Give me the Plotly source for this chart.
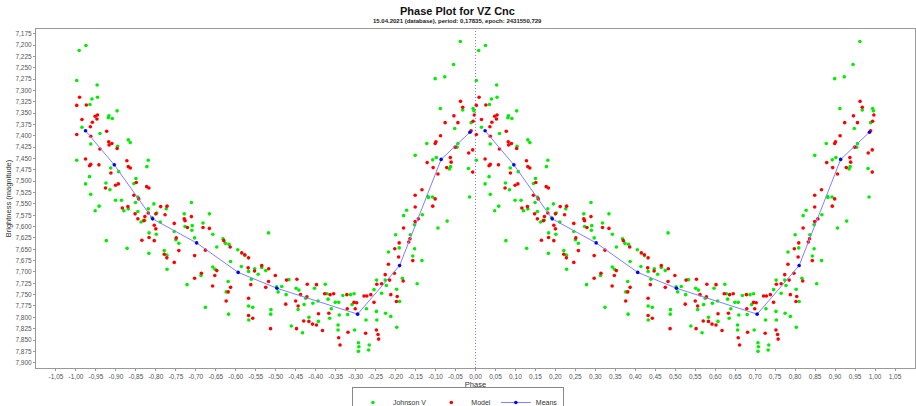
import plotly.graph_objects as go

# ---- data (phase in [0,1), magnitude) ----
obs_phase = [
    0.025, 0.008, 0.002, 0.053, 0.054, 0.040, 0.035, 0.103, 0.0825, 0.081, 0.091, 0.015, 0.060, 0.131, 0.136,
    0.037, 0.104, 0.002, 0.181, 0.1775, 0.087, 0.107, 0.034, 0.150, 0.024, 0.075, 0.145, 0.085, 0.037, 0.155,
    0.099, 0.114, 0.149, 0.195, 0.289,
    0.058, 0.048, 0.131, 0.12, 0.181, 0.155, 0.226, 0.202, 0.172, 0.163, 0.19, 0.211, 0.271, 0.334, 0.318,
    0.291, 0.29, 0.273, 0.183, 0.201, 0.246, 0.3425, 0.076, 0.25, 0.2575, 0.297, 0.368, 0.374, 0.383, 0.3525,
    0.482, 0.128, 0.1825, 0.221, 0.2275, 0.405, 0.423, 0.387, 0.414, 0.3425, 0.348, 0.313, 0.228, 0.4475, 0.465,
    0.475, 0.456, 0.432, 0.439, 0.381, 0.278, 0.376, 0.502, 0.506, 0.324, 0.432, 0.4425, 0.382, 0.4325, 0.488,
    0.4875,
    0.515, 0.526, 0.533, 0.551, 0.558, 0.556, 0.571, 0.539, 0.567, 0.575, 0.583, 0.597, 0.593, 0.606, 0.607,
    0.624, 0.628, 0.631, 0.635, 0.639, 0.649, 0.6575, 0.659, 0.656, 0.656, 0.668, 0.68, 0.687, 0.691, 0.696,
    0.6975, 0.707, 0.707, 0.708, 0.727, 0.7325, 0.734, 0.726, 0.746, 0.7525, 0.753, 0.752, 0.765, 0.777, 0.774,
    0.775, 0.788, 0.782, 0.8025, 0.803, 0.81, 0.80, 0.809, 0.817, 0.82, 0.8275, 0.837, 0.8475, 0.8475, 0.843,
    0.854, 0.866, 0.867, 0.882, 0.906, 0.929, 0.985,
    0.962, 0.945, 0.923, 0.899, 0.912, 0.968, 0.994, 0.996, 0.989, 0.948, 0.956, 0.954, 0.878, 0.849, 0.902,
    0.893, 0.9375, 0.935, 0.9825, 0.8925, 0.881,
]
obs_mag = [
    7.201, 7.212, 7.278, 7.288, 7.315, 7.319, 7.331, 7.345, 7.356, 7.360, 7.362, 7.381, 7.395, 7.409, 7.415,
    7.418, 7.423, 7.454, 7.454, 7.468, 7.471, 7.479, 7.490, 7.494, 7.506, 7.504, 7.505, 7.519, 7.529, 7.535,
    7.542, 7.542, 7.547, 7.550, 7.547,
    7.555, 7.565, 7.561, 7.565, 7.561, 7.567, 7.561, 7.570, 7.586, 7.590, 7.580, 7.590, 7.572, 7.572, 7.592,
    7.598, 7.608, 7.600, 7.614, 7.617, 7.611, 7.617, 7.631, 7.629, 7.637, 7.625, 7.627, 7.637, 7.639, 7.645,
    7.614, 7.648, 7.659, 7.653, 7.663, 7.651, 7.664, 7.677, 7.688, 7.689, 7.694, 7.708, 7.694, 7.693, 7.690,
    7.697, 7.705, 7.699, 7.716, 7.721, 7.728, 7.744, 7.733, 7.744, 7.778, 7.775, 7.778, 7.793, 7.806, 7.783,
    7.793,
    7.732, 7.750, 7.717, 7.736, 7.740, 7.783, 7.772, 7.819, 7.834, 7.758, 7.800, 7.736, 7.769, 7.764, 7.809,
    7.727, 7.748, 7.760, 7.802, 7.781, 7.767, 7.767, 7.795, 7.817, 7.828, 7.752, 7.794, 7.750, 7.772, 7.748,
    7.828, 7.856, 7.875, 7.865, 7.781, 7.872, 7.861, 7.806, 7.739, 7.718, 7.806, 7.787, 7.747, 7.730, 7.718,
    7.791, 7.798, 7.656, 7.738, 7.822, 7.765, 7.618, 7.647, 7.714, 7.576, 7.564, 7.618, 7.596, 7.649, 7.665,
    7.726, 7.675, 7.574, 7.536, 7.603, 7.588, 7.535,
    7.192, 7.243, 7.270, 7.274, 7.340, 7.343, 7.340, 7.345, 7.371, 7.384, 7.417, 7.425, 7.417, 7.443, 7.448,
    7.453, 7.468, 7.473, 7.472, 7.535, 7.534,
]

model_phase = [
    0.009, 0.002, 0.026, 0.054, 0.048, 0.0525, 0.015, 0.041, 0.036, 0.077, 0.002, 0.037, 0.082, 0.090, 0.083,
    0.103, 0.060, 0.024, 0.1275, 0.037, 0.034, 0.0575, 0.131, 0.136, 0.0875, 0.151, 0.106, 0.099, 0.177, 0.1825,
    0.074, 0.145, 0.157,
    0.116, 0.13, 0.148, 0.155, 0.181, 0.1725, 0.17, 0.212, 0.228, 0.2, 0.223, 0.196, 0.2, 0.183, 0.165,
    0.196, 0.246, 0.271, 0.273, 0.279, 0.289, 0.251, 0.318, 0.334, 0.2575, 0.221, 0.2275, 0.246, 0.297, 0.324,
    0.37, 0.386, 0.415, 0.4225, 0.432, 0.447, 0.4825, 0.465, 0.431, 0.3525, 0.314, 0.297, 0.3475, 0.342, 0.387,
    0.381, 0.376, 0.4375, 0.482, 0.499, 0.475, 0.432, 0.432, 0.4425, 0.487,
    0.527, 0.525, 0.55, 0.556, 0.553, 0.562, 0.57, 0.552, 0.583, 0.578, 0.579, 0.592, 0.602, 0.602, 0.607,
    0.617, 0.6225, 0.633, 0.636, 0.645, 0.661, 0.6575, 0.679, 0.678, 0.681, 0.696, 0.7025, 0.699, 0.721, 0.728,
    0.738, 0.725, 0.746, 0.752, 0.756, 0.7575, 0.753, 0.765, 0.774, 0.782, 0.785, 0.788, 0.797, 0.798, 0.802,
    0.804, 0.8075, 0.809, 0.819, 0.82, 0.833, 0.836, 0.843, 0.849, 0.849, 0.857, 0.849, 0.893, 0.899,
    0.9625, 0.968, 0.997, 0.924, 0.956, 0.946, 0.994, 0.989, 0.9125, 0.901, 0.899, 0.949, 0.993, 0.937, 0.939,
    0.983, 0.879, 0.894, 0.928, 0.906, 0.993, 0.866,
]
model_mag = [
    7.315, 7.333, 7.332, 7.354, 7.357, 7.363, 7.364, 7.370, 7.380, 7.390, 7.397, 7.401, 7.413, 7.417, 7.420,
    7.428, 7.429, 7.451, 7.455, 7.463, 7.466, 7.464, 7.468, 7.471, 7.482, 7.503, 7.506, 7.509, 7.512, 7.515,
    7.515, 7.531, 7.539,
    7.559, 7.556, 7.572, 7.583, 7.570, 7.578, 7.587, 7.556, 7.555, 7.572, 7.574, 7.597, 7.605, 7.624, 7.630,
    7.631, 7.593, 7.583, 7.587, 7.602, 7.578, 7.625, 7.602, 7.604, 7.653, 7.661, 7.669, 7.679, 7.664, 7.652,
    7.631, 7.645, 7.658, 7.662, 7.669, 7.698, 7.693, 7.686, 7.691, 7.697, 7.703, 7.714, 7.708, 7.731, 7.734,
    7.744, 7.764, 7.728, 7.721, 7.708, 7.734, 7.758, 7.796, 7.802, 7.825,
    7.718, 7.771, 7.764, 7.775, 7.716, 7.750, 7.808, 7.825, 7.809, 7.755, 7.727, 7.815, 7.728, 7.817, 7.792,
    7.829, 7.748, 7.791, 7.750, 7.748, 7.861, 7.845, 7.781, 7.750, 7.833, 7.767, 7.768, 7.781, 7.753, 7.753,
    7.750, 7.835, 7.767, 7.828, 7.838, 7.848, 7.727, 7.726, 7.706, 7.683, 7.718, 7.750, 7.703, 7.649, 7.765,
    7.754, 7.667, 7.636, 7.720, 7.603, 7.634, 7.627, 7.675, 7.589, 7.557, 7.583, 7.531, 7.555, 7.539,
    7.324, 7.337, 7.354, 7.371, 7.371, 7.356, 7.368, 7.389, 7.400, 7.413, 7.417, 7.425, 7.431, 7.448, 7.458,
    7.438, 7.459, 7.470, 7.470, 7.484, 7.480, 7.519,
]

mean_phase = [0.024, 0.096, 0.192, 0.302, 0.406, 0.503, 0.705, 0.81, 0.914, 0.986]
mean_mag = [7.389, 7.464, 7.583, 7.636, 7.701, 7.736, 7.793, 7.686, 7.452, 7.392]

x_ticks = [round(-1.05 + 0.05 * i, 2) for i in range(43)]
y_ticks = [round(7.175 + 0.025 * i, 3) for i in range(30)]

title_text = "Phase Plot for VZ Cnc"
subtitle_text = "15.04.2021 (database), period: 0,17835, epoch: 2431550,729"

# phase plot shows two cycles: phase-1 and phase
def two_cycles(ph, mg, gap=False):
    xs = [p - 1 for p in ph] + ([None] if gap else []) + list(ph)
    ys = list(mg) + ([None] if gap else []) + list(mg)
    return xs, ys

fig = go.Figure()
ox, oy = two_cycles(obs_phase, obs_mag)
mx, my = two_cycles(model_phase, model_mag)
ax, ay = two_cycles(mean_phase, mean_mag, gap=True)

fig.add_trace(go.Scatter(x=ox, y=oy, mode="markers", name="Johnson V",
                         marker=dict(color="#00ee00", size=3.6, symbol="circle")))
fig.add_trace(go.Scatter(x=mx, y=my, mode="markers", name="Model",
                         marker=dict(color="#ff0000", size=3.6, symbol="circle")))
fig.add_trace(go.Scatter(x=ax, y=ay, mode="lines+markers", name="Means",
                         line=dict(color="#8080ff", width=1),
                         marker=dict(color="#0000ff", size=3.6), connectgaps=False))

fig.add_vline(x=0, line=dict(color="#7f7fff", width=1, dash="1px,2px"))

font_family = "Liberation Sans, Arial, sans-serif"
fig.update_layout(
    width=916, height=406,
    margin=dict(l=36, r=1, t=29, b=38, autoexpand=False),
    paper_bgcolor="white", plot_bgcolor="white",
    showlegend=True,
    legend=dict(orientation="h", x=0.48, xanchor="center", y=-0.056, yanchor="top",
                font=dict(family=font_family, size=7, color="#333"),
                bordercolor="#888", borderwidth=1, itemwidth=30,
                tracegroupgap=0),
    font=dict(family=font_family, size=7, color="#555"),
    annotations=[
        dict(text="<b>" + title_text + "</b>", x=0.48, y=1.053, xref="paper", yref="paper",
             showarrow=False, xanchor="center", yanchor="middle",
             font=dict(family=font_family, size=11, color="#111")),
        dict(text="<b>" + subtitle_text + "</b>", x=0.48, y=1.0236, xref="paper", yref="paper",
             showarrow=False, xanchor="center", yanchor="middle",
             font=dict(family=font_family, size=6, color="#222")),
    ],
)
fig.update_xaxes(
    range=[-1.1, 1.1], tickvals=x_ticks, tickangle=0,
    ticktext=[f"{v:.2f}".replace(".", ",") for v in x_ticks],
    showgrid=False, zeroline=False, showline=True, mirror=True, linecolor="#999",
    ticks="outside", ticklen=2, tickcolor="#999",
    tickfont=dict(family=font_family, size=6.5, color="#555"),
    title=dict(text="Phase", font=dict(family=font_family, size=7.5, color="#333"), standoff=1),
)
fig.update_yaxes(
    range=[7.9117, 7.1646], tickvals=y_ticks,
    ticktext=[f"{v:.3f}".replace(".", ",") for v in y_ticks],
    showgrid=False, zeroline=False, showline=True, mirror=True, linecolor="#999",
    ticks="outside", ticklen=2, tickcolor="#999",
    tickfont=dict(family=font_family, size=6.5, color="#555"),
    title=dict(text="Brightness (magnitude)", font=dict(family=font_family, size=7.5, color="#333"), standoff=2),
)

fig.write_html("out.html")
